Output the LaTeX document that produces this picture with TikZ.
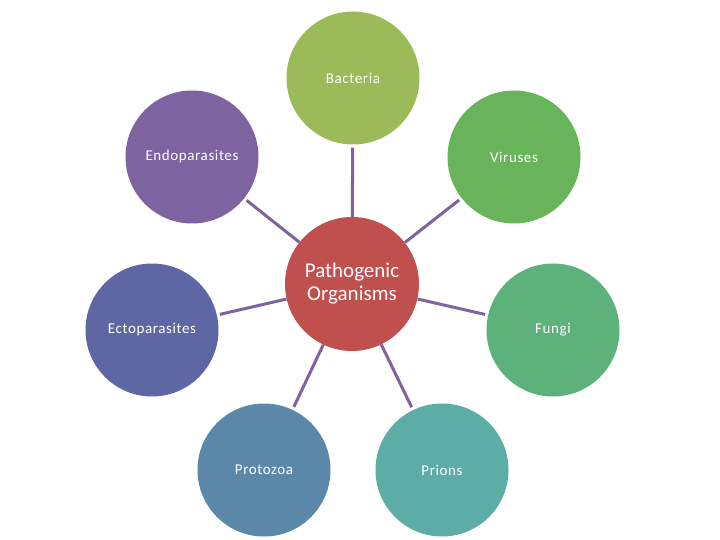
\documentclass[tikz,border=0pt]{standalone}
\usepackage{fontspec}
\setmainfont{Carlito}
\definecolor{cBac}{HTML}{9BBB59}
\definecolor{cVir}{HTML}{69B45A}
\definecolor{cFun}{HTML}{5CB27A}
\definecolor{cPri}{HTML}{5BADA5}
\definecolor{cPro}{HTML}{5B88A8}
\definecolor{cEct}{HTML}{5F66A4}
\definecolor{cEnd}{HTML}{7E63A1}
\definecolor{cCen}{HTML}{C0504D}
\definecolor{cLine}{HTML}{7E63A0}
\begin{document}
\begin{tikzpicture}[x=1pt,y=-1pt,
  bub/.style={circle,minimum size=133pt,inner sep=0pt,text=white,font=\fontsize{15}{18}\selectfont\addfontfeature{LetterSpace=4}},
  hub/.style={circle,minimum size=134pt,inner sep=0pt,fill=cCen,text=white,align=center,font=\fontsize{21}{23}\selectfont},
  link/.style={draw=cLine,line width=3pt,shorten >=3pt}]
\useasboundingbox (0,0) rectangle (720,540);
\node[hub] (c) at (352,284) {Pathogenic\\Organisms};
\node[bub,fill=cBac] (bac) at (353,78) {Bacteria};
\node[bub,fill=cVir] (vir) at (514,157) {Viruses};
\node[bub,fill=cFun] (fun) at (553,330) {Fungi};
\node[bub,fill=cPri] (pri) at (442,470) {Prions};
\node[bub,fill=cPro] (pro) at (264,470) {Protozoa};
\node[bub,fill=cEct] (ect) at (152,330) {Ectoparasites};
\node[bub,fill=cEnd] (endo) at (192,157) {Endoparasites};
\foreach \t in {bac,vir,fun,pri,pro,ect,endo}
  \draw[link] (c) -- (\t);
\end{tikzpicture}
\end{document}
